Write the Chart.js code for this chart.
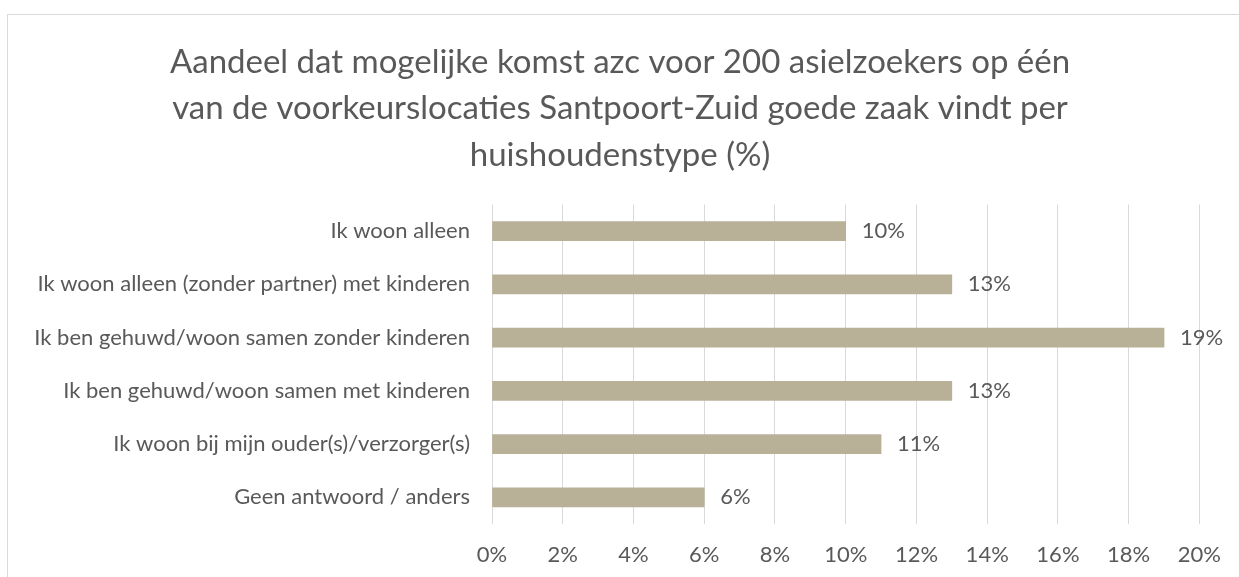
<!DOCTYPE html>
<html>
<head>
<meta charset="utf-8">
<script src="https://cdn.jsdelivr.net/npm/chart.js@4/dist/chart.umd.min.js"></script>
<style>
  html, body { margin: 0; padding: 0; background: #fff; }
  #wrap { width: 1239px; height: 577px; position: relative; }
</style>
</head>
<body>
<div id="wrap"><canvas id="myChart" width="1239" height="577"></canvas></div>
<script>
const titleLines = [
  'Aandeel dat mogelijke komst azc voor 200 asielzoekers op één',
  'van de voorkeurslocaties Santpoort-Zuid goede zaak vindt per',
  'huishoudenstype (%)'
];
const categories = [
  'Ik woon alleen',
  'Ik woon alleen (zonder partner) met kinderen',
  'Ik ben gehuwd/woon samen zonder kinderen',
  'Ik ben gehuwd/woon samen met kinderen',
  'Ik woon bij mijn ouder(s)/verzorger(s)',
  'Geen antwoord / anders'
];
const values = [10, 13, 19, 13, 11, 6];

const textColor = '#595959';
const fontFamily = 'Lato, "Open Sans", sans-serif';

// chart border like the office frame
const frame = {
  id: 'frame',
  beforeDraw(chart) {
    const c = chart.ctx;
    c.save();
    c.strokeStyle = '#d9d9d9';
    c.lineWidth = 1;
    c.strokeRect(7.5, 14.5, 1400, 800);
    c.restore();
  }
};

// value labels next to the bars
const valueLabels = {
  id: 'valueLabels',
  afterDatasetsDraw(chart) {
    const c = chart.ctx;
    const meta = chart.getDatasetMeta(0);
    c.save();
    c.fillStyle = textColor;
    c.font = '22px ' + fontFamily;
    c.textBaseline = 'middle';
    c.textAlign = 'left';
    meta.data.forEach((bar, i) => {
      c.fillText(values[i] + '%', bar.x + 16, bar.y);
    });
    c.restore();
  }
};

const ctx = document.getElementById('myChart').getContext('2d');

const chart = new Chart(ctx, {
  type: 'bar',
  data: {
    labels: categories,
    datasets: [{
      data: values,
      backgroundColor: '#b8b198',
      barThickness: 19
    }]
  },
  options: {
    indexAxis: 'y',
    responsive: false,
    animation: false,
    layout: { padding: { top: 39, bottom: 0, left: 17, right: 16 } },
    plugins: {
      legend: { display: false },
      tooltip: { enabled: false },
      title: {
        display: true,
        text: titleLines,
        color: textColor,
        font: { family: fontFamily, size: 33, weight: 'normal', lineHeight: '46.5px' },
        padding: { top: 0, bottom: 26 }
      }
    },
    scales: {
      x: {
        min: 0,
        max: 20,
        ticks: {
          stepSize: 2,
          color: textColor,
          font: { family: fontFamily, size: 22 },
          padding: 18,
          callback: v => v + '%'
        },
        grid: { color: '#d9d9d9', lineWidth: 1, drawTicks: false },
        border: { display: false },
        afterFit(scale) { scale.height = 53; }
      },
      y: {
        ticks: {
          color: textColor,
          font: { family: fontFamily, size: 22 },
          padding: 22
        },
        grid: { display: false, drawTicks: false },
        border: { display: false },
        afterFit(scale) { scale.width = 475; }
      }
    }
  },
  plugins: [frame, valueLabels]
});
</script>
</body>
</html>
